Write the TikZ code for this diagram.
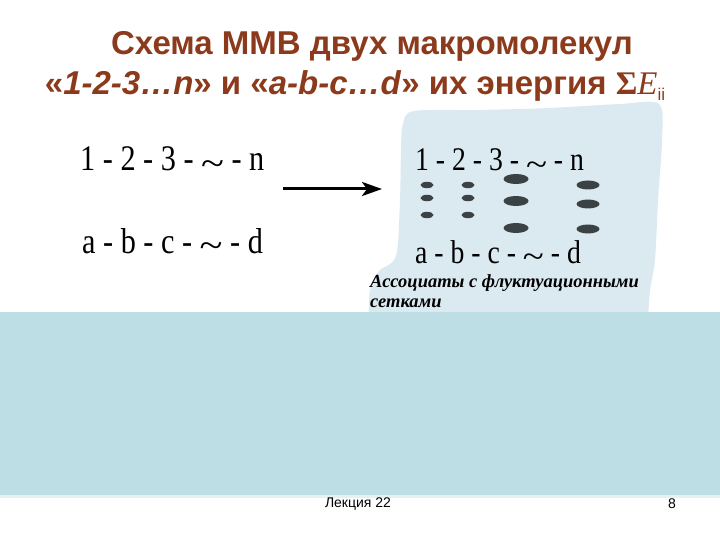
\documentclass[tikz,border=0pt]{standalone}
\usepackage{fontspec}
\setmainfont{Liberation Serif}
\setsansfont{Liberation Sans}
\newfontfamily\chainfont[FakeStretch=0.84]{Liberation Serif}
\usepackage{tikz}
\usetikzlibrary{arrows.meta}

\definecolor{titlebrown}{RGB}{140,58,28}
\definecolor{blobblue}{RGB}{219,234,240}
\definecolor{bandblue}{RGB}{189,222,228}
\definecolor{bondgray}{RGB}{58,66,70}

\newcommand{\wave}{\raisebox{-0.13em}{\scalebox{1.4}[1]{\textasciitilde}}}

\tikzset{
  slidetitle/.style={font=\sffamily\bfseries\fontsize{33}{36}\selectfont, text=titlebrown, inner sep=0, anchor=base},
  chain/.style={font=\chainfont\fontsize{36}{40}\selectfont, anchor=base west, inner sep=0},
  caption/.style={font=\bfseries\itshape\fontsize{18.5}{20}\selectfont, anchor=base west, inner sep=0},
  footer/.style={font=\sffamily\fontsize{14}{16}\selectfont, inner sep=0},
  bond/.style={fill=bondgray},
}

\begin{document}
\begin{tikzpicture}[x=1pt,y=-1pt]
  \useasboundingbox (0,0) rectangle (720,540);
  \fill[white] (0,0) rectangle (720,540);
  % background blob and lower band
  \fill[blobblue] plot[smooth, tension=0.5] coordinates {(648,320) (650,290) (655,260) (658,200) (662,140) (659,104) (620,104) (550,108) (480,110) (414,111) (403,124) (401,150) (400,200) (396,256) (379,271) (370,290) (369,320)} -- cycle;
  \fill[bandblue] (0,312) rectangle (720,495);
  \fill[bandblue!40] (0,495) rectangle (720,498);

  % title
  \node[slidetitle] (title1) at (372,55) {Схема ММВ двух макромолекул};
  \node[slidetitle] (title2) at (355,95) {«\textit{1-2-3…n}» и «\textit{a-b-c…d}» их энергия {\rmfamily Σ\mdseries\textit{E}}\raisebox{-6pt}{\fontsize{17}{17}\selectfont\mdseries ii}};

  % separate macromolecules
  \node[chain] (chainA) at (80,171) {1 - 2 - 3 - \wave\ - n};
  \node[chain] (chainB) at (82,253) {a - b - c - \wave\ - d};

  \coordinate (arrowstart) at (283,189);
  \coordinate (arrowend) at (382,189);
  \draw[line width=3pt, -{Stealth[length=20pt,width=14pt,inset=5pt]}] (arrowstart) -- (arrowend);

  % associated macromolecules
  \node[chain, font=\chainfont\fontsize{33}{36}\selectfont] (assocA) at (415,171) {1 - 2 - 3 - \wave\ - n};
  \node[chain, font=\chainfont\fontsize{33}{36}\selectfont] (assocB) at (415,263) {a - b - c - \wave\ - d};
  \foreach \x in {427,468}
    \foreach \y in {185,198,215}
      \fill[bond] (\x,\y) ellipse (6.5 and 3.2);
  \foreach \y in {179,201,228}
    \fill[bond] (516,\y) ellipse (12.5 and 5);
  \foreach \y in {185,204,229}
    \fill[bond] (588,\y) ellipse (11.5 and 4.5);

  \node[caption] (note1) at (370,287) {Ассоциаты с флуктуационными};
  \node[caption] (note2) at (370,307) {сетками};

  % footer
  \node[footer] (lecture) at (358,504) {Лекция 22};
  \node[footer] (pagenum) at (672,504) {8};
\end{tikzpicture}
\end{document}
